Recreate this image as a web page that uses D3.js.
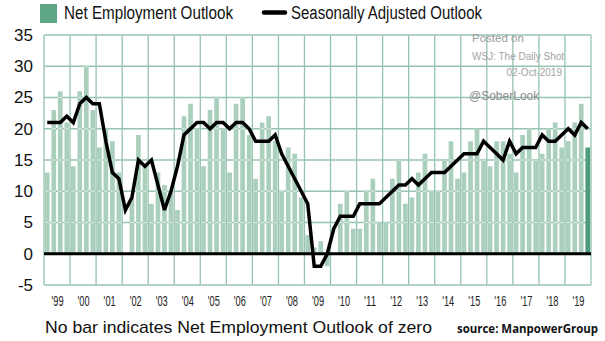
<!DOCTYPE html>
<html><head><meta charset="utf-8">
<script src="https://cdn.jsdelivr.net/npm/d3@7"></script>
<style>body{margin:0;background:#fff}svg{display:block}</style>
</head><body><svg id="c" width="605" height="341"></svg>
<script>
const years = [1999,2000,2001,2002,2003,2004,2005,2006,2007,2008,2009,2010,2011,2012,2013,2014,2015,2016,2017,2018,2019];
const yearLabels = ["'99","'00","'01","'02","'03","'04","'05","'06","'07","'08","'09","'10","'11","'12","'13","'14","'15","'16","'17","'18","'19"];
const quarters = ["Q1","Q2","Q3","Q4"];
const netOutlook = [13,23,26,21, 14,26,30,23, 17,20,18,13, 0,9,19,14, 8,13,11,10, 7,22,24,20,
  14,23,25,20, 13,24,25,19, 12,21,22,18, 10,17,16,9, 3,1,2,-2, 0,8,10,4, 4,10,12,5,
  5,12,15,8, 9,13,16,10, 10,15,18,12, 13,18,20,15, 14,18,18,16, 13,19,20,15, 16,20,21,17, 18,21,24,17];
const seasonallyAdjusted = [21,21,21,22, 21,24,25,24, 24,18,13,12, 7,9,15,14, 15,11,7,10, 14,19,20,21,
  21,20,21,21, 20,21,21,20, 18,18,18,19, 16,14,12,10, 8,-2,-2,0, 4,6,6,6, 8,8,8,8,
  9,10,11,11, 12,11,12,13, 13,13,14,15, 16,16,16,18, 17,16,15,18, 16,17,17,17, 19,18,18,19, 20,19,21,20];
const yTicks = [-5,0,5,10,15,20,25,30,35];

const periods = years.flatMap(yr => quarters.map(q => yr + " " + q));
const svg = d3.select("#c");
const L = 44, R = 591, T = 35, B = 285;
const x = d3.scaleBand().domain(periods).range([L, R]).paddingInner(0.28).paddingOuter(0.14);
const xYear = d3.scaleLinear().domain([1999, 2020]).range([L, R]);
const y = d3.scaleLinear().domain([-5, 35]).range([B, T]);
const gridColor = "#97c3b2";
const font = "'Liberation Sans', Arial, sans-serif";

// grid
const grid = svg.append("g");
grid.selectAll("line.h").data(yTicks).join("line")
  .attr("x1", L).attr("x2", R).attr("y1", d => y(d)).attr("y2", d => y(d))
  .attr("stroke", gridColor).attr("stroke-width", 1.3);
grid.selectAll("line.v").data(d3.range(1999, 2021)).join("line")
  .attr("x1", d => xYear(d)).attr("x2", d => xYear(d)).attr("y1", T).attr("y2", B)
  .attr("stroke", gridColor).attr("stroke-width", 1.3);

// bars
const data = periods.map((p, i) => ({p, v: netOutlook[i], last: i === periods.length - 1}));
const clip = svg.append("defs").append("clipPath").attr("id", "barclip");
clip.selectAll("rect").data(data).join("rect")
  .attr("x", d => x(d.p)).attr("width", x.bandwidth())
  .attr("y", d => y(Math.max(0, d.v))).attr("height", d => Math.abs(y(d.v) - y(0)));
svg.append("g").selectAll("rect").data(data).join("rect")
  .attr("x", d => x(d.p)).attr("width", x.bandwidth())
  .attr("y", d => y(Math.max(0, d.v))).attr("height", d => Math.abs(y(d.v) - y(0)))
  .attr("fill", d => d.last ? "#4f9b7c" : "#aacfbd");
svg.append("g").attr("clip-path", "url(#barclip)")
  .selectAll("line").data(yTicks.filter(d => d > 0)).join("line")
  .attr("x1", L).attr("x2", R - 8).attr("y1", d => y(d)).attr("y2", d => y(d))
  .attr("stroke", "#fff").attr("stroke-opacity", 0.55).attr("stroke-width", 1);

// zero line
svg.append("line").attr("x1", L).attr("x2", R).attr("y1", y(0)).attr("y2", y(0))
  .attr("stroke", "#000").attr("stroke-width", 3);

// SA line
const line = d3.line().x((d, i) => x(periods[i]) + x.bandwidth() / 2).y(d => y(d));
svg.append("path").datum(seasonallyAdjusted).attr("d", line)
  .attr("fill", "none").attr("stroke", "#000").attr("stroke-width", 3.5)
  .attr("stroke-linejoin", "miter").attr("stroke-miterlimit", 3);

// y axis
const ya = svg.append("g").attr("transform", "translate(33,0)")
  .call(d3.axisLeft(y).tickValues(yTicks).tickFormat(d => String(d)).tickSize(0).tickPadding(0));
ya.select(".domain").remove();
ya.selectAll("text").attr("font-family", font).attr("font-size", 17).attr("fill", "#111");

// x axis
const xa = svg.append("g").attr("transform", "translate(0,296)")
  .call(d3.axisBottom(xYear).tickValues(years.map(d => d + 0.5))
    .tickFormat((d, i) => yearLabels[i]).tickSize(0).tickPadding(0));
xa.select(".domain").remove();
xa.selectAll("text").attr("font-family", font).attr("font-size", 14.5).attr("fill", "#222")
  .attr("textLength", 12).attr("lengthAdjust", "spacingAndGlyphs");

// legend
svg.append("rect").attr("x", 40).attr("y", 4).attr("width", 17).attr("height", 19).attr("fill", "#5fa687");
svg.append("text").attr("x", 64).attr("y", 18.5).text("Net Employment Outlook")
  .attr("font-family", font).attr("font-size", 18).attr("fill", "#111")
  .attr("textLength", 169).attr("lengthAdjust", "spacingAndGlyphs");
svg.append("line").attr("x1", 264).attr("x2", 285).attr("y1", 12.5).attr("y2", 12.5)
  .attr("stroke", "#000").attr("stroke-width", 4.5).attr("stroke-linecap", "round");
svg.append("text").attr("x", 291).attr("y", 18.5).text("Seasonally Adjusted Outlook")
  .attr("font-family", font).attr("font-size", 18).attr("fill", "#111")
  .attr("textLength", 191).attr("lengthAdjust", "spacingAndGlyphs");

// watermark
const wm = [
  {t: "Posted on", x: 472, y: 42, s: 11.5, c: "#9a9a9a", a: "start"},
  {t: "WSJ: The Daily Shot", x: 472, y: 60, s: 10, c: "#a3a3a3", a: "start"},
  {t: "02-Oct-2019", x: 562, y: 76, s: 10, c: "#a3a3a3", a: "end"},
  {t: "@SoberLook", x: 469, y: 100, s: 12, c: "#8c8c8c", a: "start"}
];
svg.append("g").selectAll("text").data(wm).join("text")
  .attr("x", d => d.x).attr("y", d => d.y).attr("text-anchor", d => d.a)
  .attr("font-family", font).attr("font-size", d => d.s).attr("fill", d => d.c).text(d => d.t);

// footer
svg.append("text").attr("x", 45).attr("y", 333).text("No bar indicates Net Employment Outlook of zero")
  .attr("font-family", font).attr("font-size", 17).attr("fill", "#111")
  .attr("textLength", 387).attr("lengthAdjust", "spacingAndGlyphs");
svg.append("text").attr("x", 457).attr("y", 333).text("source: ManpowerGroup")
  .attr("font-family", "'Open Sans', 'Liberation Sans', sans-serif").attr("font-weight", "bold")
  .attr("font-size", 12).attr("fill", "#111")
  .attr("textLength", 141).attr("lengthAdjust", "spacingAndGlyphs");
</script></body></html>
